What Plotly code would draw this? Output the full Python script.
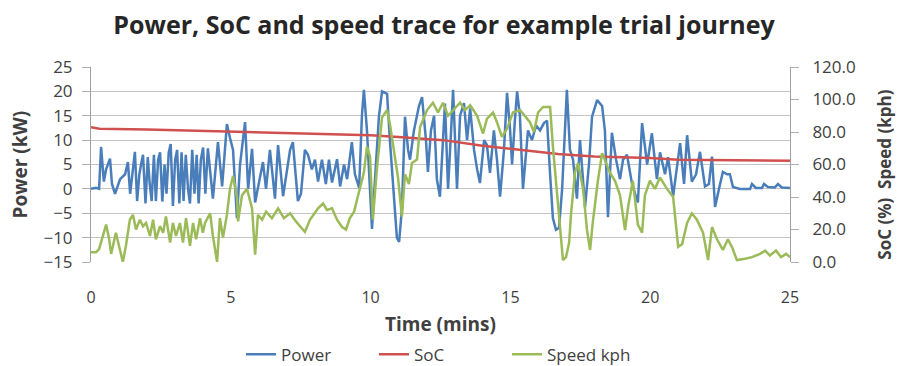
import plotly.graph_objects as go

# Trip time stamps (minutes) and electrical power drawn (kW)
power_t = [0.0, 0.18, 0.29, 0.36, 0.46, 0.54, 0.68, 0.75, 0.86, 1.04, 1.22, 1.32, 1.40, 1.50,
           1.57, 1.65, 1.73, 1.79, 1.86, 1.95, 2.03, 2.10, 2.17, 2.25, 2.32, 2.40, 2.47, 2.55,
           2.63, 2.70, 2.78, 2.85, 2.93, 3.01, 3.08, 3.16, 3.24, 3.31, 3.39, 3.47, 3.54, 3.62,
           3.70, 3.78, 3.85, 3.93, 4.01, 4.09, 4.18, 4.36, 4.54, 4.69, 4.86, 4.97,
           5.08, 5.22, 5.33, 5.51, 5.62, 5.76, 5.87, 6.15, 6.26, 6.40, 6.58, 6.69, 6.87, 7.12,
           7.22, 7.40, 7.51, 7.65, 7.76, 7.90, 8.01, 8.12, 8.26, 8.40, 8.51, 8.62, 8.80, 8.91,
           9.05, 9.16, 9.33, 9.44, 9.59, 9.69, 9.76, 9.87, 10.05, 10.19, 10.30, 10.41, 10.59,
           10.69, 10.84, 10.94, 11.02, 11.12, 11.23, 11.34, 11.41, 11.55, 11.73, 11.84, 11.98,
           12.05, 12.16, 12.27, 12.37, 12.48, 12.66, 12.77, 12.88, 12.95, 13.09, 13.20, 13.34,
           13.45, 13.56, 13.70, 13.81, 13.91, 14.06, 14.16, 14.27, 14.41, 14.52, 14.63, 14.77,
           14.88, 14.99, 15.06, 15.16, 15.24, 15.34, 15.45, 15.63, 15.77, 15.92, 16.06, 16.20,
           16.31, 16.42, 16.52, 16.63, 16.74, 16.85, 16.95, 17.02, 17.13, 17.24, 17.38, 17.49,
           17.67, 17.81, 17.92, 18.10, 18.28, 18.38, 18.49, 18.63, 18.78, 18.92, 19.03, 19.17,
           19.35, 19.56, 19.71, 19.89, 20.06, 20.24, 20.35, 20.53, 20.64, 20.82, 21.07, 21.21,
           21.32, 21.49, 21.64, 21.78, 21.96, 22.10, 22.21, 22.32, 22.46, 22.60, 22.75, 22.85,
           22.96, 23.21, 23.57, 23.64, 23.78, 24.00, 24.07, 24.21, 24.46, 24.57, 24.71, 25.0]
power_kw = [0, 0.2, 0, 8.6, 1.5, 4, 6.2, 1, -1, 2, 3, 5.5, -1, 4,
            7.6, -2.5, 3, 5, 7, -3, 6.5, 1, -2.5, 7, -2.5, 6, 7.5, -2.6,
            5, -1, 7.5, 9.2, -3.5, 6, 8, -3, 7.5, -2.5, 7, 0, -3, 8,
            -1, 7, -3, 6, 8.5, -1, 8.3, -2, 9.6, 0.5, 13.3, 10.5,
            8, -6, 5, 13.7, 0, 8.2, -2.8, 5.5, 0, 8, -2, 9, -1.5, 8,
            9.6, -2.5, -1, 8, 7, 4, 6, 1.5, 6, 1, 6, 1.3, 6.1, 0.5,
            5, 2, 9.6, 3, 0.2, 15, 20.3, 12, -8.2, 5, 15, 20, 19.5,
            10, -2, -10, -10.9, -4, 14.8, 8, 6, 12, 17, 18.8, 10,
            3.5, 12, 15, 2, -1.6, 17.5, 0, 12, 20.3, 0, 15, 17.6,
            10, 16.5, 8, 4, 1.2, 10, 9, 3.3, 12, 6, -1.6, 8,
            19.7, 12, 5, 14, 20, 15, 0, 12, 10, 13, 12, 13.5,
            14, 3, -6, -8.4, -8, 0, 12, 20.3, 8, 6, -2, 10,
            -3.7, 5, 14.8, 18.2, 17, 12, -5.8, 11.5, 6, 2, 6, 7,
            1, -2.8, 13.5, 5, 11.4, 2, 7.5, 3, 6.5, -1.5, 9.4, 1,
            11, 1.5, 3, 7.6, 0.5, 1, 6.6, -3.7, 0, 3.5, 3, 3,
            0.4, 0, 0, 1, 0.2, 0.2, 1, 0.4, 0.3, 1, 0.3, 0.2]

# Battery state of charge (%)
soc_t = [0.0, 0.3, 2.0, 4.2, 6.0, 8.4, 10.0, 11.0, 12.6, 14.0, 15.0, 16.7, 18.0, 20.0, 21.0, 25.0]
soc_pct = [83, 82, 81.5, 80.6, 80, 78.8, 78, 77, 75, 71.5, 69.5, 66.5, 65, 64, 63, 62.3]

# Vehicle speed (kph)
speed_t = [0.0, 0.18, 0.29, 0.43, 0.54, 0.64, 0.72, 0.89, 1.0, 1.14, 1.25, 1.39, 1.5, 1.61,
           1.75, 1.86, 1.97, 2.11, 2.22, 2.32, 2.47, 2.58, 2.68, 2.83, 2.93, 3.04, 3.18, 3.29,
           3.4, 3.54, 3.65, 3.76, 3.9, 4.0, 4.08, 4.26, 4.36, 4.51, 4.61, 4.72, 4.86, 4.97,
           5.08, 5.22, 5.26, 5.4, 5.58, 5.76, 5.87, 5.97, 6.12, 6.26, 6.47, 6.69, 6.9, 7.12,
           7.33, 7.47, 7.65, 7.83, 8.12, 8.3, 8.44, 8.62, 8.8, 8.98, 9.12, 9.26, 9.41, 9.51,
           9.62, 9.76, 9.87, 9.98, 10.08, 10.23, 10.41, 10.59, 10.69, 10.8, 10.98, 11.12, 11.23,
           11.37, 11.48, 11.66, 11.77, 12.02, 12.23, 12.41, 12.59, 12.77, 12.95, 13.2, 13.38,
           13.56, 13.81, 14.02, 14.16, 14.38, 14.52, 14.7, 14.88, 15.09, 15.34, 15.52, 15.7,
           15.84, 15.99, 16.17, 16.42, 16.52, 16.67, 16.78, 16.88, 16.99, 17.1, 17.17, 17.31,
           17.42, 17.6, 17.74, 17.85, 17.95, 18.13, 18.28, 18.38, 18.56, 18.74, 18.92, 19.1,
           19.21, 19.38, 19.56, 19.71, 19.81, 19.99, 20.17, 20.35, 20.6, 20.82, 21.0, 21.14,
           21.32, 21.49, 21.67, 21.89, 22.07, 22.21, 22.39, 22.6, 22.78, 22.93, 23.1, 23.39,
           23.64, 23.93, 24.11, 24.28, 24.5, 24.68, 24.86, 25.0]
speed_kph = [6, 6, 8, 16, 23, 15, 5, 18, 10, 0, 10, 26, 29, 20,
             26, 22, 24, 16, 26, 14, 22, 18, 28, 12, 24, 16, 24, 12,
             27, 10, 24, 14, 27, 18, 24, 30, 16, 0, 27, 15, 29, 45,
             53, 40, 25, 41, 45, 33, 4.5, 29, 26, 31, 27, 33, 27, 30,
             25, 22, 18.5, 26, 33, 36, 32, 33, 26, 21.5, 20, 27, 31, 38,
             45, 55, 71, 65, 26, 58, 89, 93.5, 85, 73, 52, 28, 54,
             48, 61, 63, 83, 93.5, 98, 92, 98, 90, 93.5, 98, 93.5,
             96.5, 90, 79, 88, 92, 86, 77, 82, 92, 93.5, 90, 86,
             80, 92, 95.4, 95.4, 71, 40, 19.7, 1.2, 3, 12, 30, 55,
             61, 45, 19.7, 7.4, 25, 50, 67, 63, 55, 50, 41, 19.7,
             34, 50, 23, 18, 41, 50, 45, 52, 45, 40, 9.4, 11,
             24, 30, 26, 18, 1.2, 21.5, 14, 7.4, 14, 9, 1.2, 2,
             3, 5, 7, 4, 7, 3, 5, 3]

# Axis tick values and labels
time_ticks = [0, 5, 10, 15, 20, 25]
power_ticks = [-15, -10, -5, 0, 5, 10, 15, 20, 25]
right_ticks = [0, 20, 40, 60, 80, 100, 120]
right_labels = ["0.0", "20.0", "40.0", "60.0", "80.0", "100.0", "120.0"]

BLUE = "#4a7ebb"
RED = "#d0504f"
GREEN = "#9bbb59"
FONT = "Open Sans, DejaVu Sans, sans-serif"
TEXT = "#404040"

fig = go.Figure()
fig.add_trace(go.Scatter(x=power_t, y=power_kw, name="Power", mode="lines",
                         line=dict(color=BLUE, width=2.5), yaxis="y"))
fig.add_trace(go.Scatter(x=soc_t, y=soc_pct, name="SoC", mode="lines",
                         line=dict(color=RED, width=2.5), yaxis="y2"))
fig.add_trace(go.Scatter(x=speed_t, y=speed_kph, name="Speed kph", mode="lines",
                         line=dict(color=GREEN, width=2.5), yaxis="y2"))

fig.update_layout(
    width=900, height=366,
    margin=dict(l=91, r=110, t=67, b=104, autoexpand=False),
    paper_bgcolor="white", plot_bgcolor="white",
    font=dict(family=FONT, color=TEXT, size=15),
    title=dict(text="<b>Power, SoC and speed trace for example trial journey</b>",
               x=0.505, xref="paper", xanchor="center", y=0.93, yanchor="middle",
               font=dict(size=25, color="#262626", family=FONT)),
    xaxis=dict(range=[0, 25], tickvals=time_ticks, showgrid=False, zeroline=False,
               showline=False, ticks="", ticklabelstandoff=24,
               tickfont=dict(size=16, color=TEXT)),
    yaxis=dict(range=[-15, 25], tickvals=power_ticks, showgrid=True, gridcolor="#c4c4c4",
               gridwidth=1, zeroline=False, showline=True, linecolor="#a0a0a0", linewidth=1,
               ticks="outside", ticklen=8, tickcolor="#b0b0b0", ticklabelstandoff=6,
               tickfont=dict(size=17, color=TEXT)),
    yaxis2=dict(range=[0, 120], tickvals=right_ticks, ticktext=right_labels,
                overlaying="y", side="right", showgrid=False, zeroline=False,
                showline=True, linecolor="#a0a0a0", linewidth=1,
                ticks="outside", ticklen=8, tickcolor="#b0b0b0", ticklabelstandoff=10,
                tickfont=dict(size=17, color=TEXT)),
    legend=dict(orientation="h", x=0.5, xanchor="center", y=-0.475, yanchor="middle",
                font=dict(size=17, color=TEXT), itemwidth=30, entrywidth=88),
    showlegend=True,
)

# Axis titles
fig.add_annotation(text="<b>Time (mins)</b>", x=0.5, y=-0.32, xref="paper", yref="paper",
                   showarrow=False, yanchor="middle", font=dict(size=19, color=TEXT))
fig.add_annotation(text="<b>Power (kW)</b>", x=-0.103, y=0.5, xref="paper", yref="paper",
                   showarrow=False, textangle=-90, xanchor="center", yanchor="middle",
                   font=dict(size=19, color=TEXT))
fig.add_annotation(text="<b>SoC (%)  Speed (kph)</b>", x=1.134, y=0.446, xref="paper",
                   yref="paper", showarrow=False, textangle=-90, xanchor="center",
                   yanchor="middle", font=dict(size=17, color=TEXT))

fig.write_html("out.html")
